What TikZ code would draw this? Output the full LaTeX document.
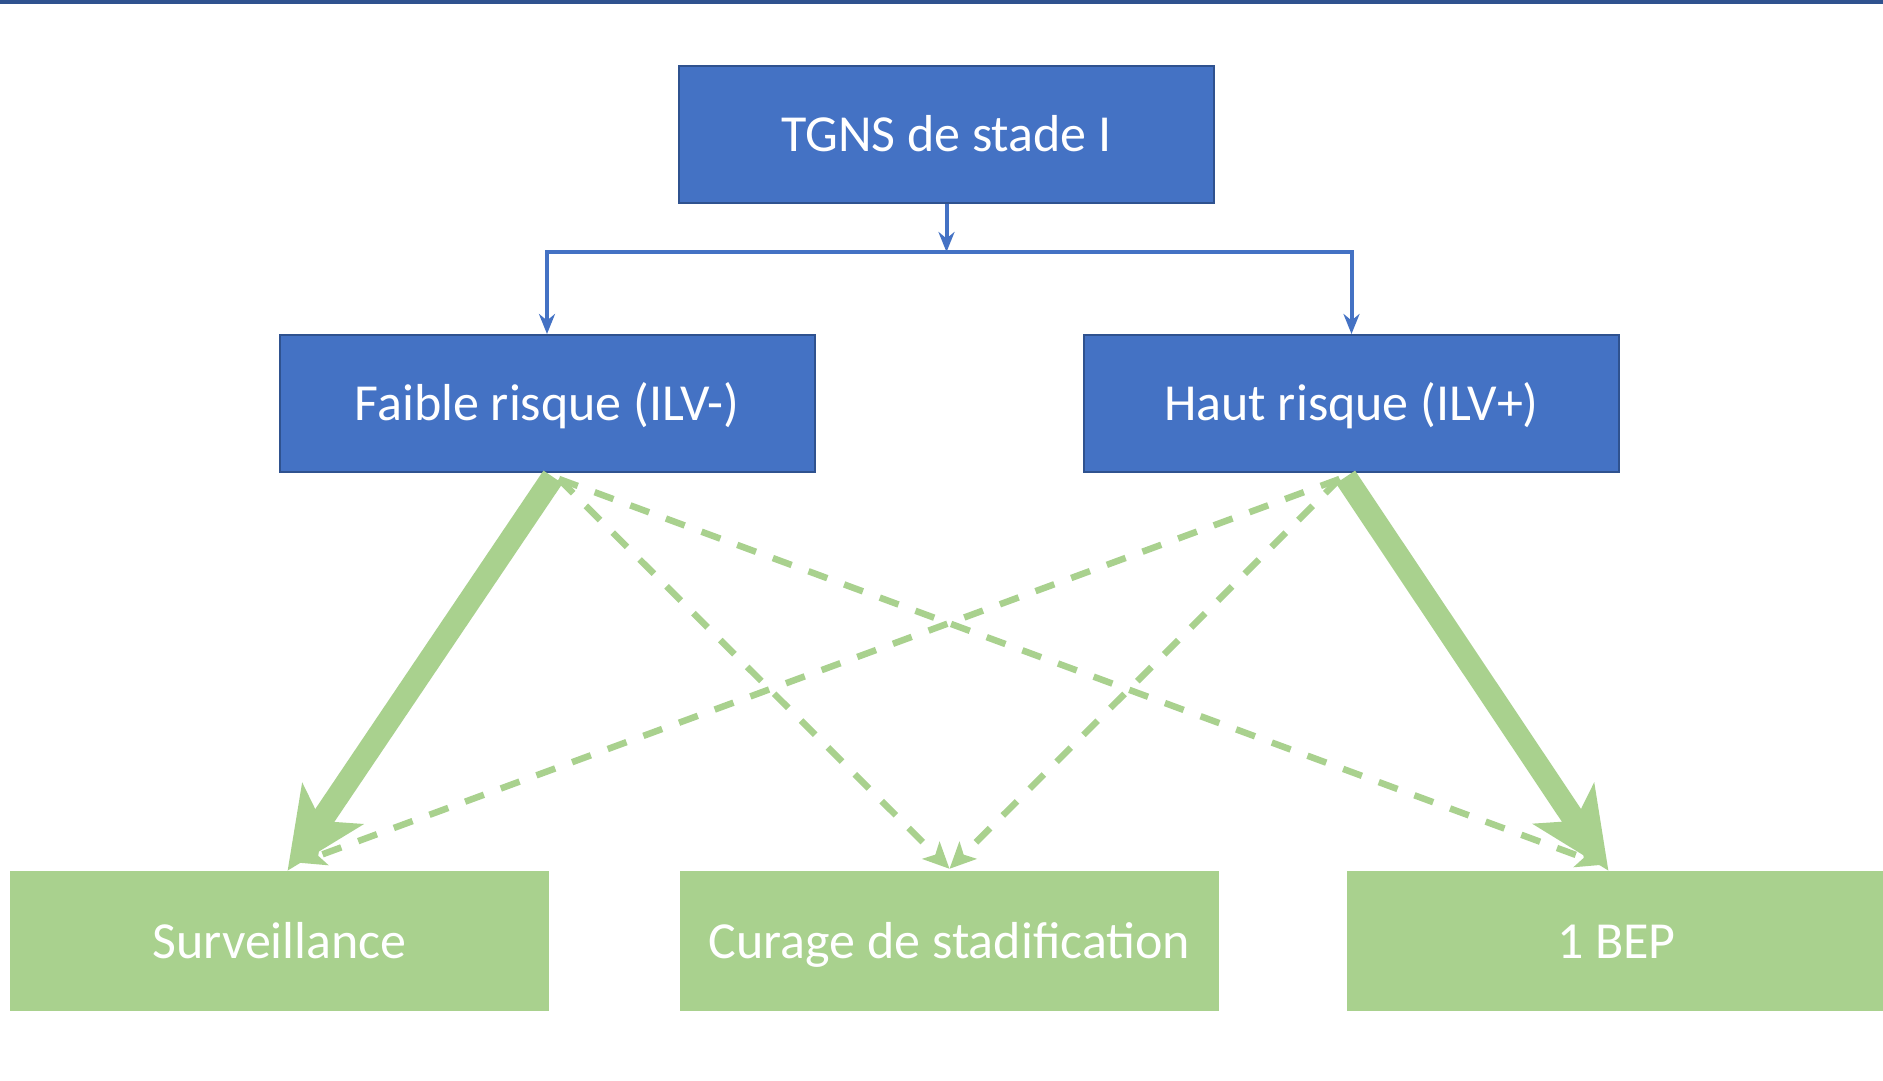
\documentclass[tikz,border=0pt]{standalone}
\usepackage{fontspec}
\setmainfont{Carlito}
\usetikzlibrary{arrows.meta,calc}

\definecolor{boxblue}{HTML}{4472C4}
\definecolor{edgeblue}{HTML}{2F528F}
\definecolor{boxgreen}{HTML}{A9D18E}

\tikzset{
    bluebox/.style={draw=edgeblue, line width=2pt, fill=boxblue, text=white,
        minimum width=535pt, minimum height=137pt, inner sep=0pt,
        text height=42pt, text depth=8pt, font=\fontsize{52}{60}\selectfont},
    greenbox/.style={fill=boxgreen, text=white,
        minimum width=539pt, minimum height=140pt, inner sep=0pt,
        text height=42pt, text depth=8pt, font=\fontsize{52}{60}\selectfont},
    bluelink/.style={draw=boxblue, line width=4pt, -{Stealth[length=20pt,width=16pt]}},
    mainlink/.style={draw=boxgreen, line width=23pt, -{Stealth[length=80pt,width=72pt,inset=20pt]}},
    sidelink/.style={draw=boxgreen, line width=6.5pt, dash pattern=on 20pt off 18pt,
        -{Stealth[length=26pt,width=24pt,inset=6pt]}}
}

\begin{document}
\begin{tikzpicture}[x=1pt,y=-1pt]
    \useasboundingbox[fill=white] (0,0) rectangle (1883,1081);
    \draw[edgeblue, line width=4pt] (0,2) -- (1883,2);

    % arbre du haut
    \node[bluebox] (stade)  at (946.5,134.5) {TGNS de stade I};
    \node[bluebox] (faible) at (547,403.5)   {Faible risque (ILV-)};
    \node[bluebox] (haut)   at (1351.5,403.5) {Haut risque (ILV+)};

    % options
    \node[greenbox] (surv)   at (279.5,941) {Surveillance};
    \node[greenbox] (curage) at (949.5,941) {Curage de stadification};
    \node[greenbox] (bep)    at (1616.5,941) {1 BEP};

    \coordinate (split) at (stade.south |- 0,252);
    \draw[bluelink] (stade.south) -- (split);
    \draw[draw=boxblue, line width=4pt, line cap=rect] (faible.north |- split) -- (haut.north |- split);
    \draw[bluelink] (faible.north |- split) -- (faible.north);
    \draw[bluelink] (haut.north |- split) -- (haut.north);

    \draw[sidelink] ($(faible.south)+(12,6)$) -- ($(curage.north)+(0,-2)$);
    \draw[sidelink] ($(faible.south)+(12,6)$) -- ($(bep.north)+(-14,-6)$);
    \draw[sidelink] ($(haut.south)+(-12,6)$) -- ($(curage.north)+(0,-2)$);
    \draw[sidelink] ($(haut.south)+(-12,6)$) -- ($(surv.north)+(20,-8)$);

    \draw[mainlink] ($(faible.south)+(6,4)$) -- ($(surv.north)+(8,0)$);
    \draw[mainlink] ($(haut.south)+(-6,4)$) -- ($(bep.north)+(-8,0)$);
\end{tikzpicture}
\end{document}
